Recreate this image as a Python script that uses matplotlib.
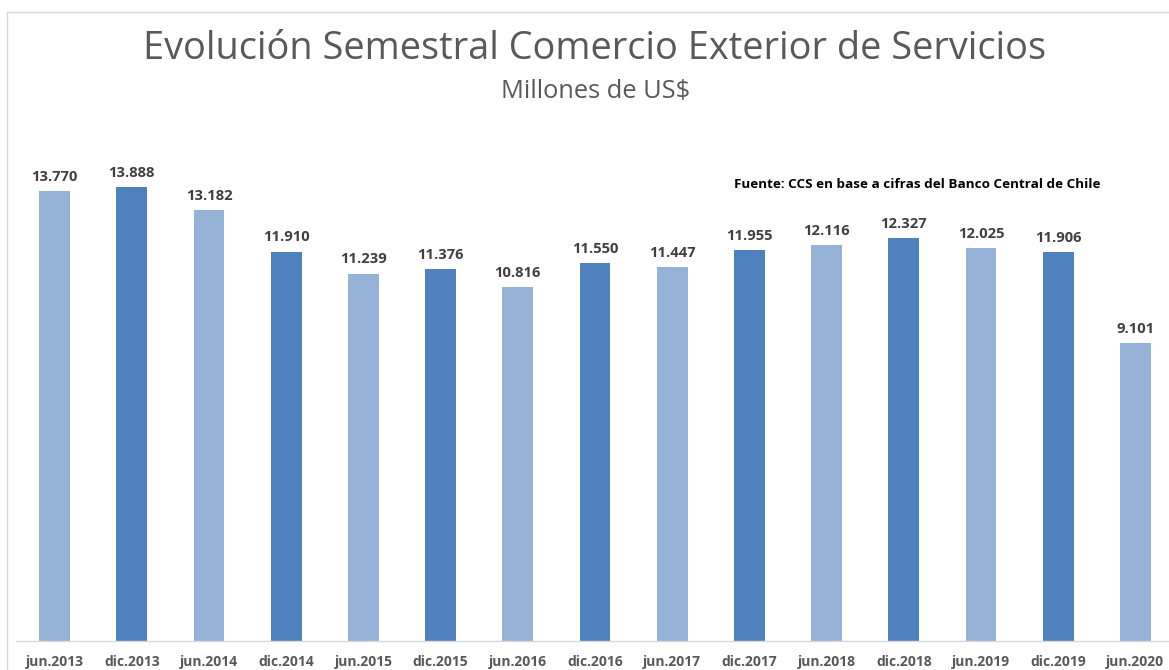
import numpy as np
import matplotlib
matplotlib.use('Agg')
import matplotlib.pyplot as plt
from matplotlib.lines import Line2D

####### Data #######

periods = ['jun.2013', 'dic.2013', 'jun.2014', 'dic.2014', 'jun.2015',
           'dic.2015', 'jun.2016', 'dic.2016', 'jun.2017', 'dic.2017',
           'jun.2018', 'dic.2018', 'jun.2019', 'dic.2019', 'jun.2020']
values = [13.770, 13.888, 13.182, 11.910, 11.239, 11.376, 10.816, 11.550,
          11.447, 11.955, 12.116, 12.327, 12.025, 11.906, 9.101]

light = '#95B3D7'
dark = '#4F81BD'

plt.rcParams['font.family'] = ['Open Sans', 'DejaVu Sans']

W, H = 1169, 670
fig = plt.figure(figsize=(W / 100, H / 100), dpi=100)

# chart frame: only top and left edges are visible (image is cropped)
fy = 1 - 11.5 / H
fx = 6.5 / W
fig.add_artist(Line2D([fx, 1.0], [fy, fy], transform=fig.transFigure,
                      color='#D9D9D9', lw=1))
fig.add_artist(Line2D([fx, fx], [0, fy], transform=fig.transFigure,
                      color='#D9D9D9', lw=1))

# axes placed in pixel coords: x 16..1174, y 130..641
left, right, top, bottom = 16, 1174, 130, 641
ax = fig.add_axes([left / W, 1 - bottom / H, (right - left) / W, (bottom - top) / H])

x = np.arange(len(values))
colors = [light if i % 2 == 0 else dark for i in range(len(values))]
bars = ax.bar(x, values, width=0.4, color=colors, zorder=2)

ax.set_xlim(-0.5, len(values) - 0.5)
ax.set_ylim(0, (bottom - top) / 32.69)

for xi, v in zip(x, values):
    ax.text(xi, v + 0.22, f'{v:.3f}', ha='center', va='bottom',
            fontsize=10.6, fontweight='bold', color='#404040')

ax.set_xticks(x)
ax.set_xticklabels(periods, fontsize=10, fontweight='bold', color='#595959')
ax.tick_params(axis='x', length=0, pad=10)
ax.set_yticks([])
for s in ['top', 'right', 'left']:
    ax.spines[s].set_visible(False)
ax.spines['bottom'].set_color('#D9D9D9')
ax.spines['bottom'].set_linewidth(1)

fig.text(595 / W, 1 - 49 / H, 'Evolución Semestral Comercio Exterior de Servicios',
         ha='center', va='center', fontsize=27.3, color='#595959')
fig.text(596 / W, 1 - 91 / H, 'Millones de US$',
         ha='center', va='center', fontsize=18.3, color='#595959')
fig.text(917 / W, 1 - 185 / H, 'Fuente: CCS en base a cifras del Banco Central de Chile',
         ha='center', va='center', fontsize=9.7, fontweight='bold', color='black')

fig.savefig('out.png', dpi=100)
